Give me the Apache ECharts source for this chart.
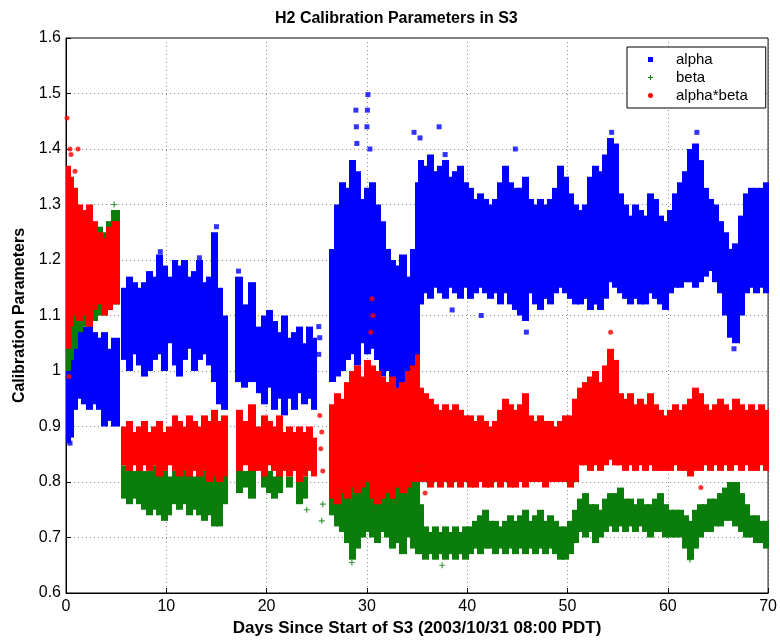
<!DOCTYPE html>
<html><head><meta charset="utf-8">
<script src="https://cdn.jsdelivr.net/npm/echarts@6/dist/echarts.min.js"></script>
<style>html,body{margin:0;padding:0;background:#fff}#c{width:780px;height:642px}</style>
</head><body><div id="c"></div>
<script>
// Bands: [dayStart, dayEnd, low, high]
const alphaBins = [
[0,0.3,0.87,1.10],[0.3,0.6,0.88,1.09],[0.6,1.0,0.93,1.10],[1.0,1.5,0.95,1.11],[1.5,2.0,0.94,1.08],[2.0,2.5,0.93,1.09],[2.5,3.0,0.94,1.07],[3.0,3.5,0.93,1.06],[3.5,4.0,0.90,1.07],[4.0,4.5,0.91,1.04],[4.5,5.2,0.90,1.06],
[5.5,6.0,1.02,1.15],[6.0,6.5,1.00,1.17],[6.5,7.0,1.03,1.16],[7.0,7.5,1.01,1.15],[7.5,8.0,0.99,1.16],[8.0,8.5,1.00,1.18],[8.5,9.0,1.02,1.17],[9.0,9.5,1.03,1.21],[9.5,10.0,1.00,1.19],[10.0,10.4,1.05,1.17],[10.6,11.0,1.01,1.20],[11.0,11.5,0.99,1.19],[11.5,12.0,1.02,1.20],[12.0,12.5,1.04,1.17],[12.5,13.0,1.00,1.18],[13.0,13.5,1.02,1.20],[13.5,14.0,1.03,1.16],[14.0,14.5,1.01,1.17],[14.5,15.0,0.98,1.25],[15.0,15.5,0.94,1.15],[15.5,16.0,0.93,1.10],
[16.9,17.5,0.98,1.17],[17.5,18.0,0.97,1.12],[18.2,18.8,0.98,1.16],[19.0,19.5,0.96,1.08],[19.5,20.0,0.94,1.10],[20.0,20.5,0.97,1.11],[20.5,21.0,0.93,1.09],[21.0,21.5,0.95,1.07],[21.5,22.0,0.92,1.10],[22.0,22.5,0.95,1.06],[22.5,23.0,0.93,1.07],[23.0,23.5,0.96,1.08],[23.5,24.0,0.94,1.05],[24.0,24.5,0.95,1.08],[24.5,24.9,0.93,1.06],
[26.3,26.8,0.98,1.22],[26.8,27.3,0.99,1.30],[27.3,27.8,1.00,1.34],[27.8,28.3,1.02,1.33],[28.3,28.8,1.03,1.38],[28.8,29.3,1.01,1.36],[29.3,29.8,1.05,1.31],[29.8,30.3,1.03,1.33],[30.3,30.8,1.04,1.34],[30.8,31.3,1.02,1.30],[31.3,31.8,0.99,1.27],[31.8,32.3,1.00,1.22],[32.3,32.8,0.98,1.20],[32.8,33.3,0.96,1.19],[33.3,33.8,0.97,1.21],[33.8,34.3,0.95,1.17],[34.3,34.8,0.93,1.22],[34.8,35.1,0.99,1.34],
[35.1,35.5,1.12,1.38],[35.5,36,1.14,1.37],[36,36.5,1.13,1.39],[36.5,37,1.15,1.36],[37,37.5,1.14,1.37],[37.5,38,1.13,1.38],[38,38.5,1.15,1.35],[38.5,39,1.14,1.36],[39,39.5,1.13,1.37],[39.5,40,1.15,1.34],[40,40.5,1.13,1.33],[40.5,41,1.14,1.31],[41,41.5,1.15,1.32],[41.5,42,1.14,1.31],[42,42.5,1.13,1.30],[42.5,43,1.14,1.31],[43,43.5,1.12,1.34],[43.5,44,1.14,1.37],[44,44.5,1.12,1.34],[44.5,45,1.11,1.33],[45,45.5,1.10,1.33],[45.5,46,1.09,1.35],[46.1,46.5,1.14,1.31],[46.5,47,1.12,1.30],[47,47.5,1.11,1.31],[47.5,48,1.13,1.30],[48,48.5,1.12,1.31],[48.5,49,1.14,1.33],[49,49.5,1.15,1.37],[49.5,50,1.14,1.35],[50,50.5,1.13,1.32],[50.5,51,1.12,1.30],[51,51.5,1.12,1.29],[51.5,52,1.13,1.30],[52,52.5,1.11,1.35],[52.5,53,1.12,1.37],[53,53.5,1.11,1.36],[53.5,54,1.13,1.39],[54,54.5,1.16,1.42],[54.5,55,1.15,1.41],[55,55.5,1.14,1.32],[55.5,56,1.13,1.30],[56,56.5,1.12,1.28],[56.5,57,1.13,1.30],[57,57.5,1.12,1.29],[57.5,58,1.12,1.28],[58,58.5,1.14,1.32],[58.5,59,1.13,1.31],[59,59.5,1.12,1.28],[59.5,60,1.11,1.27],[60,60.5,1.14,1.29],[60.5,61,1.15,1.32],[61,61.5,1.15,1.34],[61.5,62,1.16,1.36],[62,62.5,1.16,1.40],[62.5,63,1.15,1.41],[63,63.5,1.16,1.38],[63.5,64,1.17,1.33],[64,64.5,1.18,1.31],[64.5,65,1.16,1.30],[65,65.5,1.14,1.27],[65.5,66,1.10,1.25],[66,66.5,1.06,1.22],[66.5,67,1.05,1.23],[67,67.5,1.10,1.28],[67.5,68,1.14,1.32],[68,68.5,1.15,1.33],[68.5,69,1.14,1.33],[69,69.5,1.15,1.33],[69.5,70,1.14,1.34]
];
const betaBins = [
[0,0.3,1.00,1.20],[0.3,0.6,1.02,1.22],[0.6,1.0,1.04,1.22],[1.0,1.5,1.07,1.24],[1.5,2.0,1.08,1.23],[2.0,2.5,1.08,1.24],[2.5,3.0,1.09,1.24],[3.0,3.5,1.10,1.26],[3.5,4.0,1.10,1.25],[4.0,4.5,1.11,1.27],[4.5,5.2,1.12,1.29],
[5.5,6,0.77,0.83],[6,6.5,0.76,0.83],[6.5,7,0.77,0.82],[7,7.5,0.76,0.83],[7.5,8,0.75,0.82],[8,8.5,0.74,0.82],[8.5,9,0.75,0.83],[9,9.5,0.74,0.82],[9.5,10,0.73,0.82],[10,10.4,0.74,0.81],[10.6,11,0.76,0.82],[11,11.5,0.75,0.83],[11.5,12,0.76,0.82],[12,12.5,0.74,0.82],[12.5,13,0.75,0.81],[13,13.5,0.74,0.82],[13.5,14,0.73,0.82],[14,14.5,0.74,0.81],[14.5,15,0.72,0.82],[15,15.5,0.72,0.81],[15.5,16,0.76,0.82],
[17,17.5,0.78,0.83],[17.5,18,0.79,0.82],[18.2,18.8,0.77,0.83],[19.5,20,0.79,0.82],[20,20.5,0.78,0.82],[20.5,21,0.77,0.81],[21,21.5,0.78,0.82],[22,22.5,0.79,0.81],[23,23.5,0.76,0.81],[23.5,24,0.77,0.81],
[26.3,26.8,0.74,0.82],[26.8,27.3,0.72,0.81],[27.3,27.8,0.71,0.82],[27.8,28.3,0.69,0.81],[28.3,28.8,0.66,0.80],[28.8,29.3,0.68,0.81],[29.3,29.8,0.70,0.80],[29.8,30.3,0.71,0.82],[30.3,30.8,0.70,0.81],[30.8,31.3,0.69,0.80],[31.3,31.8,0.71,0.81],[31.8,32.3,0.70,0.80],[32.3,32.8,0.68,0.81],[32.8,33.3,0.69,0.80],[33.3,33.8,0.67,0.79],[33.8,34.3,0.70,0.81],[34.3,34.8,0.68,0.80],[34.8,35.1,0.67,0.82],
[35.1,35.5,0.67,0.76],[35.5,36,0.66,0.72],[36,36.5,0.67,0.71],[36.5,37,0.66,0.72],[37,37.5,0.67,0.71],[37.5,38,0.66,0.72],[38,38.5,0.67,0.71],[38.5,39,0.66,0.72],[39,39.5,0.67,0.71],[39.5,40,0.66,0.72],[40,40.5,0.67,0.72],[40.5,41,0.68,0.73],[41,41.5,0.67,0.74],[41.5,42,0.68,0.75],[42,42.5,0.68,0.73],[42.5,43,0.67,0.73],[43,43.5,0.68,0.72],[43.5,44,0.67,0.73],[44,44.5,0.68,0.74],[44.5,45,0.67,0.73],[45,45.5,0.68,0.74],[45.5,46,0.67,0.75],[46,46.5,0.68,0.73],[46.5,47,0.67,0.74],[47,47.5,0.68,0.75],[47.5,48,0.67,0.73],[48,48.5,0.68,0.74],[48.5,49,0.67,0.73],[49,49.5,0.66,0.72],[49.5,50,0.66,0.72],[50,50.5,0.67,0.73],[50.5,51,0.69,0.75],[51,51.5,0.71,0.77],[51.5,52,0.70,0.78],[52,52.5,0.71,0.76],[52.5,53,0.69,0.76],[53,53.5,0.70,0.75],[53.5,54,0.71,0.77],[54,54.5,0.72,0.78],[54.5,55,0.71,0.78],[55,55.5,0.72,0.79],[55.5,56,0.71,0.77],[56,56.5,0.72,0.77],[56.5,57,0.71,0.76],[57,57.5,0.72,0.77],[57.5,58,0.71,0.76],[58,58.5,0.70,0.76],[58.5,59,0.71,0.77],[59,59.5,0.71,0.78],[59.5,60,0.70,0.76],[60,60.5,0.70,0.75],[60.5,61,0.70,0.75],[61,61.5,0.70,0.75],[61.5,62,0.68,0.74],[62,62.5,0.66,0.73],[62.5,63,0.68,0.75],[63,63.5,0.70,0.76],[63.5,64,0.71,0.76],[64,64.5,0.71,0.77],[64.5,65,0.72,0.77],[65,65.5,0.72,0.78],[65.5,66,0.73,0.79],[66,66.5,0.73,0.80],[66.5,67,0.72,0.80],[67,67.5,0.71,0.78],[67.5,68,0.70,0.76],[68,68.5,0.70,0.74],[68.5,69,0.69,0.74],[69,69.5,0.69,0.73],[69.5,70,0.68,0.73]
];
const productBins = [
[0,0.3,1.04,1.37],[0.3,0.6,1.08,1.35],[0.6,1.0,1.10,1.33],[1.0,1.5,1.09,1.30],[1.5,2.0,1.10,1.29],[2.0,2.5,1.08,1.30],[2.5,3.0,1.11,1.27],[3.0,3.5,1.12,1.25],[3.5,4.0,1.10,1.24],[4.0,4.5,1.11,1.26],[4.5,5.2,1.12,1.27],
[5.5,6,0.83,0.90],[6,6.5,0.82,0.91],[6.5,7,0.83,0.89],[7,7.5,0.82,0.90],[7.5,8,0.83,0.91],[8,8.5,0.82,0.89],[8.5,9,0.83,0.90],[9,9.5,0.81,0.91],[9.5,10,0.82,0.89],[10,10.4,0.83,0.90],[10.6,11,0.82,0.92],[11,11.5,0.81,0.91],[11.5,12,0.82,0.90],[12,12.5,0.81,0.92],[12.5,13,0.82,0.91],[13,13.5,0.81,0.90],[13.5,14,0.82,0.92],[14,14.5,0.80,0.91],[14.5,15,0.81,0.93],[15,15.5,0.80,0.91],[15.5,16,0.81,0.92],
[17,17.5,0.82,0.93],[17.5,18,0.83,0.91],[18.2,18.8,0.82,0.94],[19,19.5,0.82,0.90],[19.5,20,0.81,0.92],[20,20.5,0.83,0.91],[20.5,21,0.82,0.90],[21,21.5,0.81,0.92],[21.5,22,0.82,0.89],[22,22.5,0.81,0.90],[22.5,23,0.82,0.89],[23,23.5,0.80,0.90],[23.5,24,0.81,0.89],[24,24.5,0.82,0.90],[24.5,24.9,0.81,0.88],
[26.3,26.8,0.77,0.94],[26.8,27.3,0.76,0.96],[27.3,27.8,0.78,0.95],[27.8,28.3,0.77,0.98],[28.3,28.8,0.79,1.00],[28.8,29.3,0.78,1.01],[29.3,29.8,0.79,0.99],[29.8,30.3,0.80,1.02],[30.3,30.8,0.77,1.01],[30.8,31.3,0.76,1.00],[31.3,31.8,0.77,0.99],[31.8,32.3,0.78,0.98],[32.3,32.8,0.77,0.99],[32.8,33.3,0.79,0.97],[33.3,33.8,0.78,0.98],[33.8,34.3,0.79,1.00],[34.3,34.8,0.80,1.01],[34.8,35.1,0.82,1.03],
[35.1,35.5,0.80,0.97],[35.5,36,0.80,0.96],[36,36.5,0.79,0.95],[36.5,37,0.80,0.94],[37,37.5,0.79,0.93],[37.5,38,0.80,0.94],[38,38.5,0.79,0.93],[38.5,39,0.80,0.94],[39,39.5,0.79,0.93],[39.5,40,0.80,0.92],[40,40.5,0.79,0.92],[40.5,41,0.79,0.91],[41,41.5,0.80,0.92],[41.5,42,0.79,0.91],[42,42.5,0.79,0.90],[42.5,43,0.80,0.91],[43,43.5,0.79,0.93],[43.5,44,0.80,0.95],[44,44.5,0.79,0.94],[44.5,45,0.79,0.93],[45,45.5,0.80,0.94],[45.5,46,0.79,0.96],[46.1,46.5,0.80,0.92],[46.5,47,0.80,0.91],[47,47.5,0.80,0.92],[47.5,48,0.79,0.91],[48,48.5,0.80,0.91],[48.5,49,0.80,0.90],[49,49.5,0.80,0.91],[49.5,50,0.80,0.92],[50,50.5,0.79,0.92],[50.5,51,0.80,0.95],[51,51.5,0.83,0.97],[51.5,52,0.83,0.98],[52,52.5,0.82,0.99],[52.5,53,0.83,1.00],[53,53.5,0.82,0.98],[53.5,54,0.83,1.01],[54,54.5,0.84,1.04],[54.5,55,0.83,1.02],[55,55.5,0.83,0.96],[55.5,56,0.82,0.95],[56,56.5,0.83,0.96],[56.5,57,0.82,0.94],[57,57.5,0.83,0.95],[57.5,58,0.82,0.94],[58,58.5,0.83,0.96],[58.5,59,0.82,0.94],[59,59.5,0.82,0.93],[59.5,60,0.82,0.92],[60,60.5,0.82,0.93],[60.5,61,0.83,0.94],[61,61.5,0.82,0.93],[61.5,62,0.82,0.94],[62,62.5,0.81,0.95],[62.5,63,0.82,0.97],[63,63.5,0.82,0.96],[63.5,64,0.83,0.94],[64,64.5,0.82,0.93],[64.5,65,0.83,0.94],[65,65.5,0.82,0.95],[65.5,66,0.83,0.94],[66,66.5,0.82,0.93],[66.5,67,0.83,0.95],[67,67.5,0.82,0.94],[67.5,68,0.83,0.93],[68,68.5,0.82,0.94],[68.5,69,0.82,0.93],[69,69.5,0.83,0.94],[69.5,70,0.82,0.93]
];
// Isolated points: [day, value]
const alphaPoints = [[28.9,1.47],[28.95,1.44],[30.1,1.498],[30.05,1.47],[30.0,1.44],[29.0,1.41],[30.3,1.40],[34.7,1.43],[35.3,1.42],[37.2,1.44],[37.8,1.39],[44.8,1.40],[54.4,1.43],[62.9,1.43],[17.2,1.18],[15.0,1.26],[25.2,1.03],[25.2,1.08],[25.3,1.06],[5.8,1.14],[38.5,1.11],[41.4,1.10],[0.4,0.87],[66.6,1.04],[45.9,1.07],[9.4,1.215],[13.3,1.204]];
const betaPoints = [[4.8,1.30],[0.2,0.99],[28.5,0.655],[37.5,0.65],[62.2,0.66],[25.5,0.73],[25.6,0.76],[24.0,0.75]];
const productPoints = [[0.1,1.456],[0.4,1.40],[0.5,1.39],[0.9,1.36],[1.2,1.40],[30.5,1.13],[30.6,1.10],[30.4,1.07],[54.3,1.07],[35.8,0.78],[63.3,0.79],[25.3,0.92],[25.4,0.86],[25.6,0.82],[25.5,0.89],[0.3,0.99]];

const blue = '#0000ff', green = '#0b7d0b', red = '#ff0000';
const plusPath = 'path://M2,0h1v2h2v1h-2v2h-1v-2h-2v-1h2z';

function renderBand(params, api) {
  const p0 = api.coord([api.value(0), api.value(3)]);
  const p1 = api.coord([api.value(1), api.value(2)]);
  const x0 = Math.floor(p0[0]);
  const x1 = Math.ceil(p1[0]) + 1;
  return { type: 'rect',
    shape: { x: x0, y: p0[1], width: x1 - x0, height: p1[1] - p0[1] },
    style: { fill: api.visual('color') } };
}
function band(name, data, color) {
  return { name, type: 'custom', renderItem: renderBand, data, clip: true,
    encode: { x: [0, 1], y: [2, 3] }, itemStyle: { color }, silent: true };
}
const chart = echarts.init(document.getElementById('c'), null, { renderer: 'canvas' });
const font = 'Arial, "Liberation Sans", Helvetica, sans-serif';
chart.setOption({
  animation: false,
  backgroundColor: '#fff',
  title: { text: 'H2 Calibration Parameters in S3', left: 270, top: 6,
    textStyle: { fontFamily: font, fontSize: 16, fontWeight: 'bold', color: '#000' } },
  grid: { left: 66, right: 9, top: 38, bottom: 49, show: true, borderColor: '#000', borderWidth: 1 },
  legend: {
    orient: 'vertical', left: 627, top: 47, selectedMode: false,
    backgroundColor: '#fff', borderColor: '#000', borderWidth: 1, borderRadius: 0,
    padding: [4, 18, 4, 21], itemGap: 1, itemWidth: 5, itemHeight: 5,
    textStyle: { fontFamily: font, fontSize: 15, color: '#000', padding: [0, 0, 0, 18], lineHeight: 17 },
    data: [
      { name: 'alpha', icon: 'rect', itemStyle: { color: blue } },
      { name: 'beta', icon: plusPath, itemStyle: { color: green } },
      { name: 'alpha*beta', icon: 'circle', itemStyle: { color: red } }
    ]
  },
  xAxis: {
    type: 'value', min: 0, max: 70, interval: 10,
    name: 'Days Since Start of S3 (2003/10/31 08:00 PDT)', nameLocation: 'middle', nameGap: 27,
    nameTextStyle: { fontFamily: font, fontSize: 17, fontWeight: 'bold', color: '#000' },
    axisLine: { lineStyle: { color: '#000' } },
    axisTick: { inside: true, length: 5, lineStyle: { color: '#000' } },
    axisLabel: { fontFamily: font, fontSize: 16, color: '#000', margin: 6 },
    splitLine: { show: true, lineStyle: { color: '#8a8a8a', type: [1, 3], width: 1 } }
  },
  yAxis: {
    type: 'value', min: 0.6, max: 1.6, interval: 0.1,
    name: 'Calibration Parameters', nameLocation: 'middle', nameGap: 36,
    nameTextStyle: { fontFamily: font, fontSize: 16, fontWeight: 'bold', color: '#000' },
    axisLine: { show: true, lineStyle: { color: '#000' } },
    axisTick: { show: true, inside: true, length: 5, lineStyle: { color: '#000' } },
    axisLabel: { fontFamily: font, fontSize: 16, color: '#000', margin: 5,
      formatter: v => String(+v.toFixed(1)) },
    splitLine: { show: true, lineStyle: { color: '#8a8a8a', type: [1, 3], width: 1 } }
  },
  series: [
    band('alpha', alphaBins, blue),
    { name: 'alpha', type: 'scatter', data: alphaPoints, symbol: 'rect', symbolSize: 5,
      itemStyle: { color: blue }, silent: true },
    band('beta', betaBins, green),
    { name: 'beta', type: 'scatter', data: betaPoints, symbol: plusPath, symbolSize: 6,
      itemStyle: { color: green }, silent: true },
    band('alpha*beta', productBins, red),
    { name: 'alpha*beta', type: 'scatter', data: productPoints, symbol: 'circle', symbolSize: 5,
      itemStyle: { color: red }, silent: true }
  ]
});
</script></body></html>
